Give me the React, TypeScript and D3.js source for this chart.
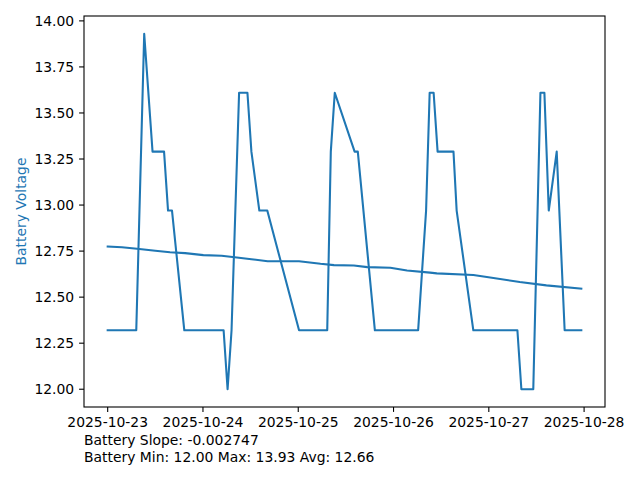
import React from "react";
import * as d3 from "d3";

const voltageTimes = [
  "2025-10-23T00:00", "2025-10-23T07:12", "2025-10-23T09:12", "2025-10-23T11:18",
  "2025-10-23T14:12", "2025-10-23T15:12", "2025-10-23T16:12", "2025-10-23T19:18",
  "2025-10-24T05:12", "2025-10-24T06:12", "2025-10-24T07:12", "2025-10-24T09:06",
  "2025-10-24T11:12", "2025-10-24T12:12", "2025-10-24T14:12", "2025-10-24T16:12",
  "2025-10-25T00:12", "2025-10-25T07:18", "2025-10-25T08:12", "2025-10-25T09:12",
  "2025-10-25T14:12", "2025-10-25T15:00", "2025-10-25T19:18", "2025-10-26T06:12",
  "2025-10-26T08:12", "2025-10-26T09:06", "2025-10-26T10:06", "2025-10-26T11:06",
  "2025-10-26T15:06", "2025-10-26T15:54", "2025-10-26T20:06", "2025-10-27T07:12",
  "2025-10-27T08:12", "2025-10-27T11:12", "2025-10-27T13:00", "2025-10-27T14:00",
  "2025-10-27T15:06", "2025-10-27T17:06", "2025-10-27T19:06", "2025-10-27T23:18",
];
const voltageValues = [
  12.32, 12.32, 13.93, 13.29,
  13.29, 12.97, 12.97, 12.32,
  12.32, 12.0, 12.32, 13.61,
  13.61, 13.29, 12.97, 12.97,
  12.32, 12.32, 13.29, 13.61,
  13.29, 13.29, 12.32, 12.32,
  12.97, 13.61, 13.61, 13.29,
  13.29, 12.97, 12.32, 12.32,
  12.0, 12.0, 13.61, 13.61,
  12.97, 13.29, 12.32, 12.32,
];

const trendTimes = [
  "2025-10-23T00:00", "2025-10-23T03:36", "2025-10-23T07:24", "2025-10-23T12:00",
  "2025-10-23T15:42", "2025-10-23T19:30", "2025-10-24T00:06", "2025-10-24T04:42",
  "2025-10-24T08:00", "2025-10-24T12:12", "2025-10-24T16:18", "2025-10-25T00:12",
  "2025-10-25T05:36", "2025-10-25T09:00", "2025-10-25T14:00", "2025-10-25T17:24",
  "2025-10-25T23:12", "2025-10-26T03:24", "2025-10-26T09:12", "2025-10-26T10:54",
  "2025-10-26T20:06", "2025-10-26T23:30", "2025-10-27T07:48", "2025-10-27T14:30",
  "2025-10-27T23:18",
];
const trendValues = [
  12.775, 12.771, 12.763, 12.752,
  12.744, 12.739, 12.728, 12.725,
  12.717, 12.706, 12.695, 12.695,
  12.681, 12.674, 12.672, 12.663,
  12.66, 12.645, 12.633, 12.629,
  12.62, 12.609, 12.582, 12.564,
  12.546,
];

const xTickLabels = ["2025-10-23", "2025-10-24", "2025-10-25", "2025-10-26", "2025-10-27", "2025-10-28"];
const yTicks = [12.0, 12.25, 12.5, 12.75, 13.0, 13.25, 13.5, 13.75, 14.0];
const yLabel = "Battery Voltage";
const infoLines = ["Battery Slope: -0.002747", "Battery Min: 12.00 Max: 13.93 Avg: 12.66"];

const COLOR = "#1f77b4";
const FONT = "DejaVu Sans, sans-serif";

export default function App() {
  const W = 640, H = 480;
  const left = 84, right = 605, top = 16, bottom = 407;
  const parse = d3.timeParse("%Y-%m-%dT%H:%M");
  const pParse = d3.timeParse("%Y-%m-%d");

  const main = voltageTimes.map((t, i) => ({ t: parse(t)!, v: voltageValues[i] }));
  const trend = trendTimes.map((t, i) => ({ t: parse(t)!, v: trendValues[i] }));
  const all = [...main, ...trend];
  const tExt = d3.extent(all, (d) => +d.t) as [number, number];
  const vExt = d3.extent(all, (d) => d.v) as [number, number];
  const tm = (tExt[1] - tExt[0]) * 0.05;
  const vm = (vExt[1] - vExt[0]) * 0.05;

  const x = d3.scaleTime().domain([tExt[0] - tm, tExt[1] + tm]).range([left, right]);
  const y = d3.scaleLinear().domain([vExt[0] - vm, vExt[1] + vm]).range([bottom, top]);

  const line = d3
    .line<{ t: Date; v: number }>()
    .x((d) => x(d.t))
    .y((d) => y(d.v));

  const fs = 13.9;
  const tickLen = 4.9;

  return (
    <svg width={W} height={H} style={{ position: "absolute", left: 0, top: 0, background: "#fff" }}>
      <rect x={0} y={0} width={W} height={H} fill="#fff" />
      <defs>
        <clipPath id="plotclip">
          <rect x={left} y={top} width={right - left} height={bottom - top} />
        </clipPath>
      </defs>
      <g clipPath="url(#plotclip)">
        <path d={line(main)!} fill="none" stroke={COLOR} strokeWidth={2.08} strokeLinejoin="round" strokeLinecap="square" />
        <path d={line(trend)!} fill="none" stroke={COLOR} strokeWidth={2.08} strokeLinejoin="round" strokeLinecap="square" />
      </g>
      <rect x={left} y={top} width={right - left} height={bottom - top} fill="none" stroke="#000" strokeWidth={1.1} />
      {yTicks.map((v) => (
        <g key={v}>
          <line x1={left} x2={left - tickLen} y1={y(v)} y2={y(v)} stroke="#000" strokeWidth={1.1} />
          <text x={left - tickLen - 4.9} y={y(v)} dy="0.36em" textAnchor="end" fontFamily={FONT} fontSize={fs} fill="#000">
            {d3.format(".2f")(v)}
          </text>
        </g>
      ))}
      {xTickLabels.map((s) => {
        const xp = x(pParse(s)!);
        return (
          <g key={s}>
            <line x1={xp} x2={xp} y1={bottom} y2={bottom + tickLen} stroke="#000" strokeWidth={1.1} />
            <text x={xp} y={bottom + tickLen + 4.9} dy="0.76em" textAnchor="middle" fontFamily={FONT} fontSize={fs} fill="#000">
              {s}
            </text>
          </g>
        );
      })}
      <text
        transform={`translate(${26},${(top + bottom) / 2}) rotate(-90)`}
        textAnchor="middle"
        fontFamily={FONT}
        fontSize={fs}
        fill={COLOR}
      >
        {yLabel}
      </text>
      {infoLines.map((s, i) => (
        <text key={s} x={84} y={445 + i * 17} fontFamily={FONT} fontSize={fs} fill="#000">
          {s}
        </text>
      ))}
    </svg>
  );
}
